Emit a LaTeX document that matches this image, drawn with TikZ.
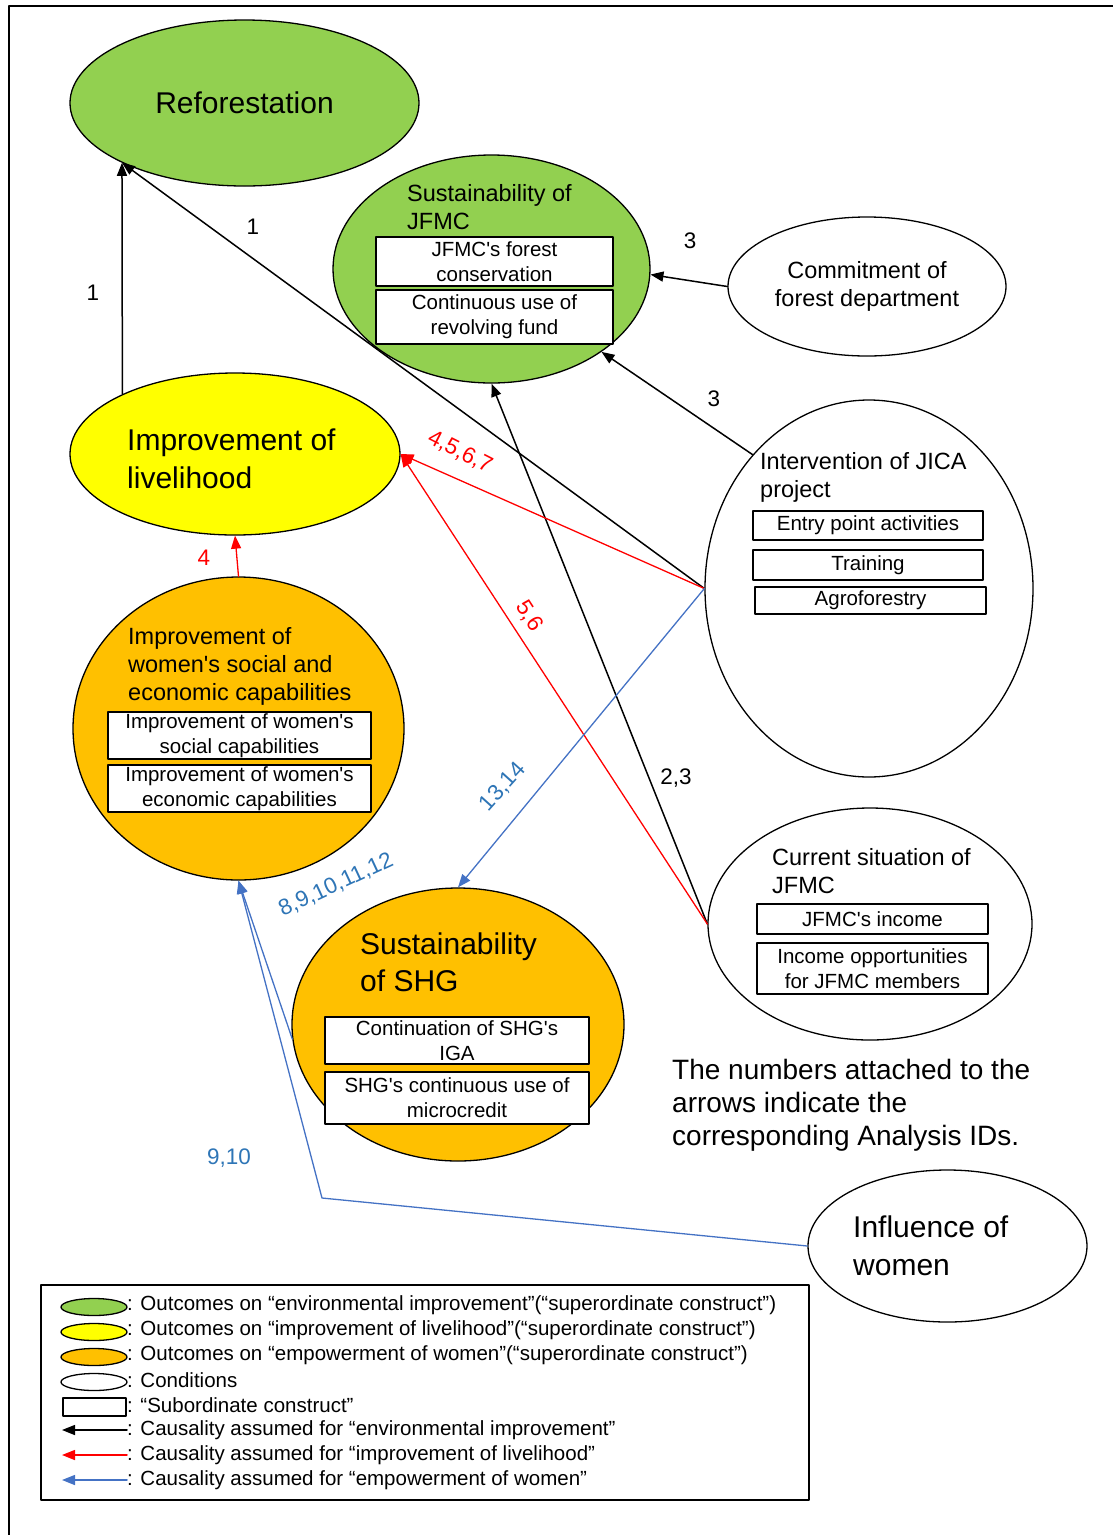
\documentclass[tikz,border=0pt]{standalone}
\usepackage{fontspec}
\setmainfont{Liberation Sans}[Ligatures=TeXOff]
\usetikzlibrary{arrows.meta,shapes.geometric}
\definecolor{envgreen}{RGB}{146,208,80}
\definecolor{liveyellow}{RGB}{255,255,0}
\definecolor{womenorange}{RGB}{255,192,0}
\definecolor{causered}{RGB}{255,0,0}
\definecolor{causeblue}{RGB}{68,114,196}
\definecolor{idblue}{RGB}{46,117,182}
\newcommand{\pxfont}[2]{\fontsize{#1}{#2}\selectfont}
\tikzset{
  every node/.style={inner sep=0pt, font=\pxfont{20.5}{25}},
  oval/.style={ellipse, draw=black, line width=1.3pt},
  green oval/.style={oval, fill=envgreen},
  yellow oval/.style={oval, fill=liveyellow},
  orange oval/.style={oval, fill=womenorange},
  white oval/.style={oval, fill=white},
  oval title/.style={anchor=west, align=left, font=\pxfont{23.5}{28}},
  big title/.style={anchor=west, align=left, font=\pxfont{30}{38}},
  subbox/.style={draw=black, line width=1.3pt, fill=white, align=center},
  causetip/.style={-{Triangle[length=13pt,width=10pt]}},
  cause/.style={causetip, line width=1.5pt, draw=black},
  red cause/.style={causetip, line width=1.3pt, draw=causered},
  blue cause/.style={causetip, line width=1.3pt, draw=causeblue},
  idnum/.style={font=\pxfont{22.5}{26}},
  red idnum/.style={idnum, text=causered},
  blue idnum/.style={idnum, text=idblue}
}

\begin{document}
\begin{tikzpicture}[x=1pt,y=-1pt,line cap=round,line join=round]
  \useasboundingbox (0,0) rectangle (1113,1535);
  \draw[line width=2.5pt] (9,1535) -- (9,6) -- (1113,6);

  % outcomes
  \node[green oval, minimum width=349pt, minimum height=166pt, font=\pxfont{30}{38}] (refor) at (244.5,103) {Reforestation};

  \node[green oval, minimum width=317pt, minimum height=228pt] (jfmc) at (491.5,269) {};
  \node[oval title] (jfmct) at (407,207) {Sustainability of\\JFMC};
  \node[subbox, minimum width=237pt, minimum height=49pt] (jfmcb1) at (494.5,261.5) {JFMC's forest\\conservation};
  \node[subbox, minimum width=237pt, minimum height=54pt] (jfmcb2) at (494.5,317) {Continuous use of\\revolving fund};

  \node[yellow oval, minimum width=330pt, minimum height=162pt] (livel) at (235,454) {};
  \node[big title] (livelt) at (127,459) {Improvement of\\livelihood};

  \node[orange oval, minimum width=331pt, minimum height=303pt] (women) at (238.5,728.5) {};
  \node[oval title] (woment) at (128,666) {Improvement of\\women's social and\\economic capabilities};
  \node[subbox, minimum width=263pt, minimum height=47pt] (womenb1) at (239.5,735.5) {Improvement of women's\\social capabilities};
  \node[subbox, minimum width=263pt, minimum height=47pt] (womenb2) at (239.5,788.5) {Improvement of women's\\economic capabilities};

  \node[orange oval, minimum width=332pt, minimum height=273pt] (shg) at (458,1024.5) {};
  \node[big title, font=\pxfont{30}{37}] (shgt) at (360,962) {Sustainability\\of SHG};
  \node[subbox, minimum width=264pt, minimum height=47pt] (shgb1) at (457,1040.5) {Continuation of SHG's\\IGA};
  \node[subbox, minimum width=264pt, minimum height=52pt] (shgb2) at (457,1098) {SHG's continuous use of\\microcredit};

  % conditions
  \node[white oval, minimum width=278pt, minimum height=139pt, align=center, font=\pxfont{23.5}{28}] (commit) at (867,286.5) {Commitment of\\forest department};

  \node[white oval, minimum width=328pt, minimum height=377pt] (jica) at (869,588.5) {};
  \node[oval title] (jicat) at (760,477) {Intervention of JICA\\project};
  \node[subbox, minimum width=230pt, minimum height=29pt] (jicab1) at (868,525.5) {Entry point activities};
  \node[subbox, minimum width=230pt, minimum height=30pt] (jicab2) at (868,565) {Training};
  \node[subbox, minimum width=231pt, minimum height=27pt] (jicab3) at (870.5,600.5) {Agroforestry};

  \node[white oval, minimum width=324pt, minimum height=232pt] (current) at (870,924) {};
  \node[oval title] (currentt) at (772,871) {Current situation of\\JFMC};
  \node[subbox, minimum width=231pt, minimum height=30pt] (currentb1) at (872.5,919) {JFMC's income};
  \node[subbox, minimum width=231pt, minimum height=51pt] (currentb2) at (872.5,968.5) {Income opportunities\\for JFMC members};

  \node[white oval, minimum width=279pt, minimum height=152pt] (influ) at (947.5,1246) {};
  \node[big title] (influt) at (853,1246) {Influence of\\women};

  \node[anchor=west, align=left, font=\pxfont{28}{33}] (note) at (672,1105) {The numbers attached to the\\arrows indicate the\\corresponding Analysis IDs.};

  % causality
  \draw[cause] (livel.152) -- (refor.206);
  \draw[cause] (jica.west) -- (refor.206);
  \draw[cause] (commit.west) -- (jfmc.-2);
  \draw[cause] (jica.131) -- (jfmc.-37);
  \draw[cause] (current.west) -- (jfmc.south);
  \draw[red cause] (jica.west) -- (livel.east);
  \draw[red cause] (current.west) -- (livel.east);
  \draw[red cause] (women.north) -- (livel.south);
  \draw[blue cause] (jica.west) -- (shg.north);
  \draw[blue cause] (shg.185) -- (women.south);
  \coordinate (bend) at (322,1198);
  \draw[blue cause] (influ.west) -- (bend) -- (women.south);

  \node[idnum] (id1a) at (93,293) {1};
  \node[idnum] (id1b) at (253,227) {1};
  \node[idnum] (id3a) at (690,241) {3};
  \node[idnum] (id3b) at (714,399) {3};
  \node[idnum] (id23) at (676,778) {2,3};
  \node[red idnum, rotate=-27] (id4567) at (460,452) {4,5,6,7};
  \node[red idnum, rotate=-57] (id56) at (529,616) {5,6};
  \node[red idnum] (id4) at (204,558) {4};
  \node[blue idnum, rotate=48] (id1314) at (503,787) {13,14};
  \node[blue idnum, rotate=25] (id812) at (336,885) {8,9,10,11,12};
  \node[blue idnum] (id910) at (229,1158) {9,10};

  % legend
  \draw[line width=1.3pt] (41,1285) rectangle (809,1500);
  \foreach \col/\y/\txt in {envgreen/1305/environmental improvement,
      liveyellow/1330/improvement of livelihood,
      womenorange/1355/empowerment of women} {
    \node[oval, fill=\col, minimum width=66pt, minimum height=17pt] (legsym\y) at (94,\y+2) {};
    \node[anchor=west] (legtxt\y) at (127,\y) {: Outcomes on “\txt”(“superordinate construct”)};
  }
  \node[white oval, minimum width=66pt, minimum height=17pt] (legsym1380) at (94,1382) {};
  \node[anchor=west] (legtxt1380) at (127,1380) {: Conditions};
  \node[subbox, minimum width=63pt, minimum height=18pt] (legsym1405) at (94.5,1407) {};
  \node[anchor=west] (legtxt1405) at (127,1405) {: “Subordinate construct”};
  \foreach \col/\y/\txt in {black/1430/environmental improvement,
      causered/1455/improvement of livelihood,
      causeblue/1480/empowerment of women} {
    \draw[causetip, line width=1.5pt, draw=\col] (127,\y) -- (62,\y);
    \node[anchor=west] (legtxt\y) at (127,\y) {: Causality assumed for “\txt”};
  }
\end{tikzpicture}
\end{document}
